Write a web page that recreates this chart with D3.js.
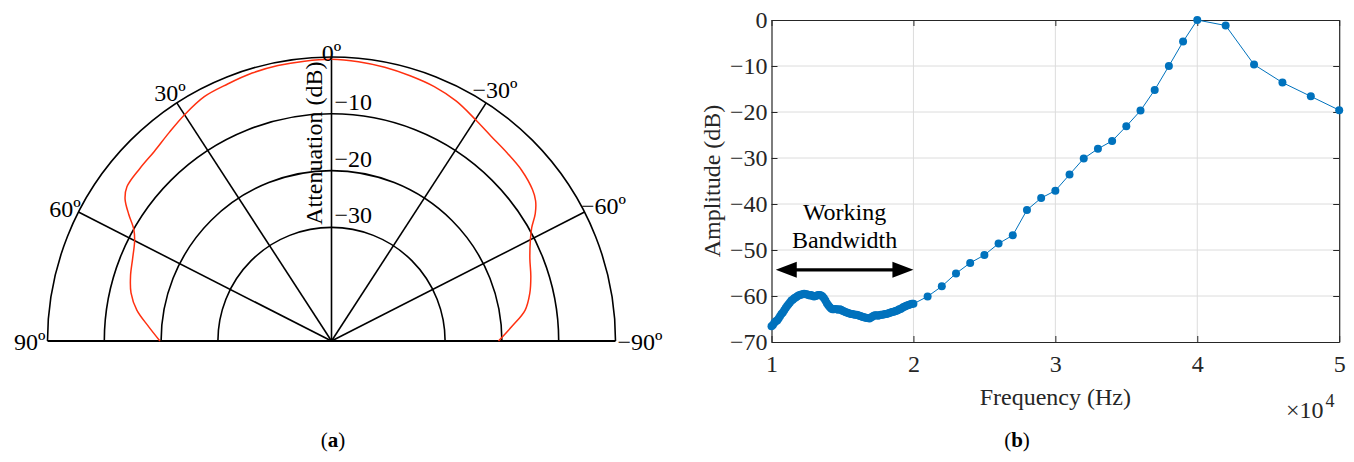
<!DOCTYPE html>
<html><head><meta charset="utf-8">
<script src="https://cdn.jsdelivr.net/npm/d3@7"></script>
</head><body style="margin:0;background:#fff">
<svg id="fig" width="1354" height="462" style="display:block"></svg>
<script>
// ---------- (a) beam pattern: attenuation vs. angle ----------
const patternAngles = [-90,-85,-80,-75,-70,-65,-60,-57.5,-55,-52.5,-50,-45,-40,-35,-30,-25,-20,-15,-10,-5,
  0,5,10,15,20,25,30,35,40,45,50,52.5,55,57.5,60,65,70,75,80,85,90];
const patternDb = [-20.6,-18.2,-15.5,-14.1,-13.1,-12.2,-10.7,-9.5,-7.7,-6.4,-5.7,-5.0,-4.7,-4.3,-3.5,-2.4,-1.7,-1.3,-0.9,-0.6,
  -0.4,-0.5,-0.6,-0.8,-1.2,-1.5,-2.5,-3.5,-4.3,-4.6,-4.9,-5.9,-7.9,-10.0,-11.1,-12.1,-12.8,-13.7,-15.3,-17.7,-19.8];
const ringTicks = [0,-10,-20,-30];
const ringLabels = ["−10","−20","−30"];
const angleTicks = [-90,-60,-30,0,30,60,90];
const angleTickLabels = ["−90º","−60º","−30º","0º","30º","60º","90º"];
const polarAxisTitle = "Attenuation (dB)";

// ---------- (b) frequency response ----------
const freqE4 = [1.00,1.01,1.02,1.03,1.04,1.05,1.06,1.07,1.08,1.09,1.10,1.11,1.12,1.13,1.14,1.15,1.16,1.17,1.18,1.19,
  1.20,1.21,1.22,1.23,1.24,1.25,1.26,1.27,1.28,1.29,1.30,1.31,1.32,1.33,1.34,1.35,1.36,1.37,1.38,1.39,
  1.40,1.41,1.42,1.43,1.44,1.45,1.46,1.47,1.48,1.49,1.50,1.51,1.52,1.53,1.54,1.55,1.56,1.57,1.58,1.59,
  1.60,1.61,1.62,1.63,1.64,1.65,1.66,1.67,1.68,1.69,1.70,1.71,1.72,1.73,1.74,1.75,1.76,1.77,1.78,1.79,
  1.80,1.81,1.82,1.83,1.84,1.85,1.86,1.87,1.88,1.89,1.90,1.91,1.92,1.93,1.94,1.95,1.96,1.97,1.98,1.99,
  2.00,2.1,2.2,2.3,2.4,2.5,2.6,2.7,2.8,2.9,3.0,3.1,3.2,3.3,3.4,3.5,3.6,3.7,3.8,3.9,4.0,4.2,4.4,4.6,4.8,5.0];
const amplitudeDb = [-66.6,-66.3,-65.8,-65.5,-65.3,-64.9,-64.4,-63.9,-63.6,-63.1,-62.6,-62.2,-61.8,-61.4,-61.0,-60.8,-60.5,-60.3,-60.1,-59.9,
  -59.8,-59.7,-59.6,-59.5,-59.6,-59.6,-59.8,-59.9,-59.8,-60.0,-60.1,-60.0,-59.9,-59.8,-59.8,-59.9,-60.1,-60.5,-61.0,-61.6,
  -62.0,-62.4,-62.7,-62.9,-62.9,-62.8,-62.9,-63.0,-62.9,-63.0,-63.2,-63.3,-63.5,-63.6,-63.7,-63.8,-63.9,-63.9,-64.0,-64.1,
  -64.1,-64.2,-64.3,-64.4,-64.5,-64.6,-64.7,-64.8,-64.8,-64.9,-64.7,-64.5,-64.3,-64.2,-64.2,-64.3,-64.2,-64.1,-64.1,-64.0,
  -63.9,-63.9,-63.8,-63.7,-63.6,-63.5,-63.4,-63.3,-63.2,-63.1,-62.9,-62.8,-62.6,-62.4,-62.3,-62.1,-62.0,-61.9,-61.8,-61.7,
  -61.7,-60.1,-57.9,-55.1,-52.8,-51.1,-48.6,-46.8,-41.3,-38.7,-37.1,-33.6,-30.1,-28.0,-26.3,-23.1,-19.7,-15.2,-10.0,-4.7,
  0,-1.2,-9.7,-13.6,-16.6,-19.6];
const xTicks = [1,2,3,4,5];
const xTickLabels = ["1","2","3","4","5"];
const yTicks = [0,-10,-20,-30,-40,-50,-60,-70];
const yTickLabels = ["0","−10","−20","−30","−40","−50","−60","−70"];
const bandwidthSpan = [1.03, 2.0];
const bandwidthLevel = -54.3;
const bandwidthText = ["Working","Bandwidth"];

const FONT = "Liberation Serif";
const svg = d3.select("#fig");

/* ===== polar panel ===== */
const cx = 331.5, cy = 341, R = 284;
const rad = d3.scaleLinear().domain([-50, 0]).range([0, R]);
// angular grid: tick angles to drawn angles (clockwise from top, degrees)
const ang = d3.scaleLinear().domain(angleTicks).range([90, 63, 33, 0, -33, -63, -90]);
const toXY = (deg, r) => {
  const a = ang(deg) * Math.PI / 180;
  return [cx + r * Math.sin(a), cy - r * Math.cos(a)];
};
const gp = svg.append("g");
const arc = d3.arc().startAngle(-Math.PI / 2).endAngle(Math.PI / 2);
// rings
gp.selectAll("path.ring").data(ringTicks).join("path")
  .attr("class", "ring")
  .attr("transform", `translate(${cx},${cy})`)
  .attr("d", d => arc({innerRadius: rad(d), outerRadius: rad(d)}))
  .attr("fill", "none").attr("stroke", "#000").attr("stroke-width", 1.6);
// spokes
gp.selectAll("line.spoke").data(angleTicks.filter(a => Math.abs(a) < 90)).join("line")
  .attr("class", "spoke")
  .attr("x1", cx).attr("y1", cy)
  .attr("x2", d => toXY(d, R)[0]).attr("y2", d => toXY(d, R)[1])
  .attr("stroke", "#000").attr("stroke-width", 1.6);
// base diameter (±90)
gp.append("line")
  .attr("x1", toXY(90, R)[0]).attr("y1", cy)
  .attr("x2", toXY(-90, R)[0]).attr("y2", cy)
  .attr("stroke", "#000").attr("stroke-width", 1.8);
// pattern
const patternPts = patternAngles.map((a, i) => toXY(a, rad(patternDb[i])));
gp.append("path")
  .attr("d", d3.line().curve(d3.curveCatmullRom.alpha(0.5))(patternPts))
  .attr("fill", "none").attr("stroke", "#ff3010").attr("stroke-width", 1.5);
// ring labels
gp.selectAll("text.rl").data(ringLabels).join("text")
  .attr("class", "rl")
  .attr("x", cx + 3)
  .attr("y", (d, i) => cy - rad(ringTicks[i + 1]) - 4)
  .attr("font-family", FONT).attr("font-size", 24).attr("fill", "#000")
  .text(d => d);
// angle labels
gp.selectAll("text.al").data(angleTicks).join("text")
  .attr("class", "al")
  .attr("font-family", FONT).attr("font-size", 24).attr("fill", "#000")
  .attr("text-anchor", "middle")
  .attr("dominant-baseline", "central")
  .text((d, i) => angleTickLabels[i])
  .each(function (d) {
    const w = this.getComputedTextLength();
    const a = ang(d) * Math.PI / 180;
    const r = R + (w / 2) * Math.abs(Math.sin(a)) + 7 * Math.abs(Math.cos(a)) + (Math.abs(d) === 90 ? 2 : -2);
    const [x, y] = toXY(d, r);
    d3.select(this).attr("x", x).attr("y", y + (Math.abs(d) === 60 ? 4 : 1));
  });
gp.append("text")
  .attr("transform", `translate(${cx - 10},${(cy - R + cy - rad(-30)) / 2 + 1}) rotate(-90)`)
  .attr("text-anchor", "middle")
  .attr("font-family", FONT).attr("font-size", 24).attr("fill", "#000")
  .text(polarAxisTitle);
svg.append("text").attr("x", 333).attr("y", 447).attr("text-anchor", "middle")
  .attr("font-family", FONT).attr("font-size", 21).attr("fill", "#000")
  .html('(<tspan font-weight="bold">a</tspan>)');

/* ===== frequency response panel ===== */
const x = d3.scaleLinear().domain([1, 5]).range([771.5, 1339.2]);
const y = d3.scaleLinear().domain([-70, 0]).range([342, 20]);
const gr = svg.append("g");
const axisCol = "#262626";
// grid
gr.selectAll("line.gx").data(xTicks.slice(1, -1)).join("line")
  .attr("x1", d => x(d)).attr("x2", d => x(d)).attr("y1", y(-70)).attr("y2", y(0))
  .attr("stroke", "#dcdcdc").attr("stroke-width", 1);
gr.selectAll("line.gy").data(yTicks.slice(1, -1)).join("line")
  .attr("y1", d => y(d)).attr("y2", d => y(d)).attr("x1", x(1)).attr("x2", x(5))
  .attr("stroke", "#dcdcdc").attr("stroke-width", 1);
// axes
const styleAxis = g => {
  g.attr("font-family", FONT).attr("font-size", 24);
  g.selectAll("path.domain").attr("stroke", axisCol).attr("stroke-width", 1.2);
  g.selectAll(".tick line").attr("stroke", axisCol).attr("stroke-width", 1);
  g.selectAll(".tick text").attr("fill", axisCol).attr("font-size", 24).attr("font-family", FONT);
};
gr.append("g").attr("transform", `translate(0,${y(-70)})`)
  .call(d3.axisBottom(x).tickValues(xTicks).tickFormat((d, i) => xTickLabels[i]).tickSize(-6).tickSizeOuter(0).tickPadding(13))
  .call(styleAxis);
gr.append("g").attr("transform", `translate(0,${y(0)})`)
  .call(d3.axisTop(x).tickValues(xTicks).tickFormat("").tickSize(-6).tickSizeOuter(0))
  .call(styleAxis);
gr.append("g").attr("transform", `translate(${x(1)},0)`)
  .call(d3.axisLeft(y).tickValues(yTicks).tickFormat((d, i) => yTickLabels[i]).tickSize(-6).tickSizeOuter(0).tickPadding(4))
  .call(styleAxis);
gr.append("g").attr("transform", `translate(${x(5)},0)`)
  .call(d3.axisRight(y).tickValues(yTicks).tickFormat("").tickSize(-6).tickSizeOuter(0))
  .call(styleAxis);
// series
const pts = freqE4.map((f, i) => [f, amplitudeDb[i]]);
gr.append("path")
  .attr("d", d3.line().x(d => x(d[0])).y(d => y(d[1]))(pts))
  .attr("fill", "none").attr("stroke", "#0072BD").attr("stroke-width", 1);
gr.selectAll("circle").data(pts).join("circle")
  .attr("cx", d => x(d[0])).attr("cy", d => y(d[1])).attr("r", 4)
  .attr("fill", "#0072BD");
// working-bandwidth annotation
const ay = y(bandwidthLevel), ax1 = x(bandwidthSpan[0]), ax2 = x(bandwidthSpan[1]);
const headL = 21, headH = 8;
gr.append("line").attr("x1", ax1 + headL - 2).attr("x2", ax2 - headL + 2).attr("y1", ay).attr("y2", ay)
  .attr("stroke", "#000").attr("stroke-width", 3.2);
gr.append("path").attr("fill", "#000")
  .attr("d", `M${ax1},${ay}L${ax1 + headL},${ay - headH}L${ax1 + headL},${ay + headH}Z` +
             `M${ax2},${ay}L${ax2 - headL},${ay - headH}L${ax2 - headL},${ay + headH}Z`);
const tx = (ax1 + ax2) / 2;
gr.selectAll("text.bw").data(bandwidthText).join("text")
  .attr("class", "bw")
  .attr("x", tx).attr("y", (d, i) => 220 + i * 28)
  .attr("text-anchor", "middle").attr("font-family", FONT).attr("font-size", 24).attr("fill", "#000")
  .text(d => d);
// axis titles
gr.append("text").attr("x", (x(1) + x(5)) / 2).attr("y", 405)
  .attr("text-anchor", "middle").attr("font-family", FONT).attr("font-size", 24).attr("fill", axisCol)
  .text("Frequency (Hz)");
gr.append("text").attr("transform", `translate(720,${(y(0) + y(-70)) / 2}) rotate(-90)`)
  .attr("text-anchor", "middle").attr("font-family", FONT).attr("font-size", 24).attr("fill", axisCol)
  .text("Amplitude (dB)");
gr.append("text").attr("x", 1286).attr("y", 418).attr("font-family", FONT).attr("font-size", 24).attr("fill", axisCol)
  .html('×10<tspan dy="-11" dx="2" font-size="18">4</tspan>');
svg.append("text").attr("x", 1017).attr("y", 447).attr("text-anchor", "middle")
  .attr("font-family", FONT).attr("font-size", 21).attr("fill", "#000")
  .html('(<tspan font-weight="bold">b</tspan>)');
</script>
</body></html>
